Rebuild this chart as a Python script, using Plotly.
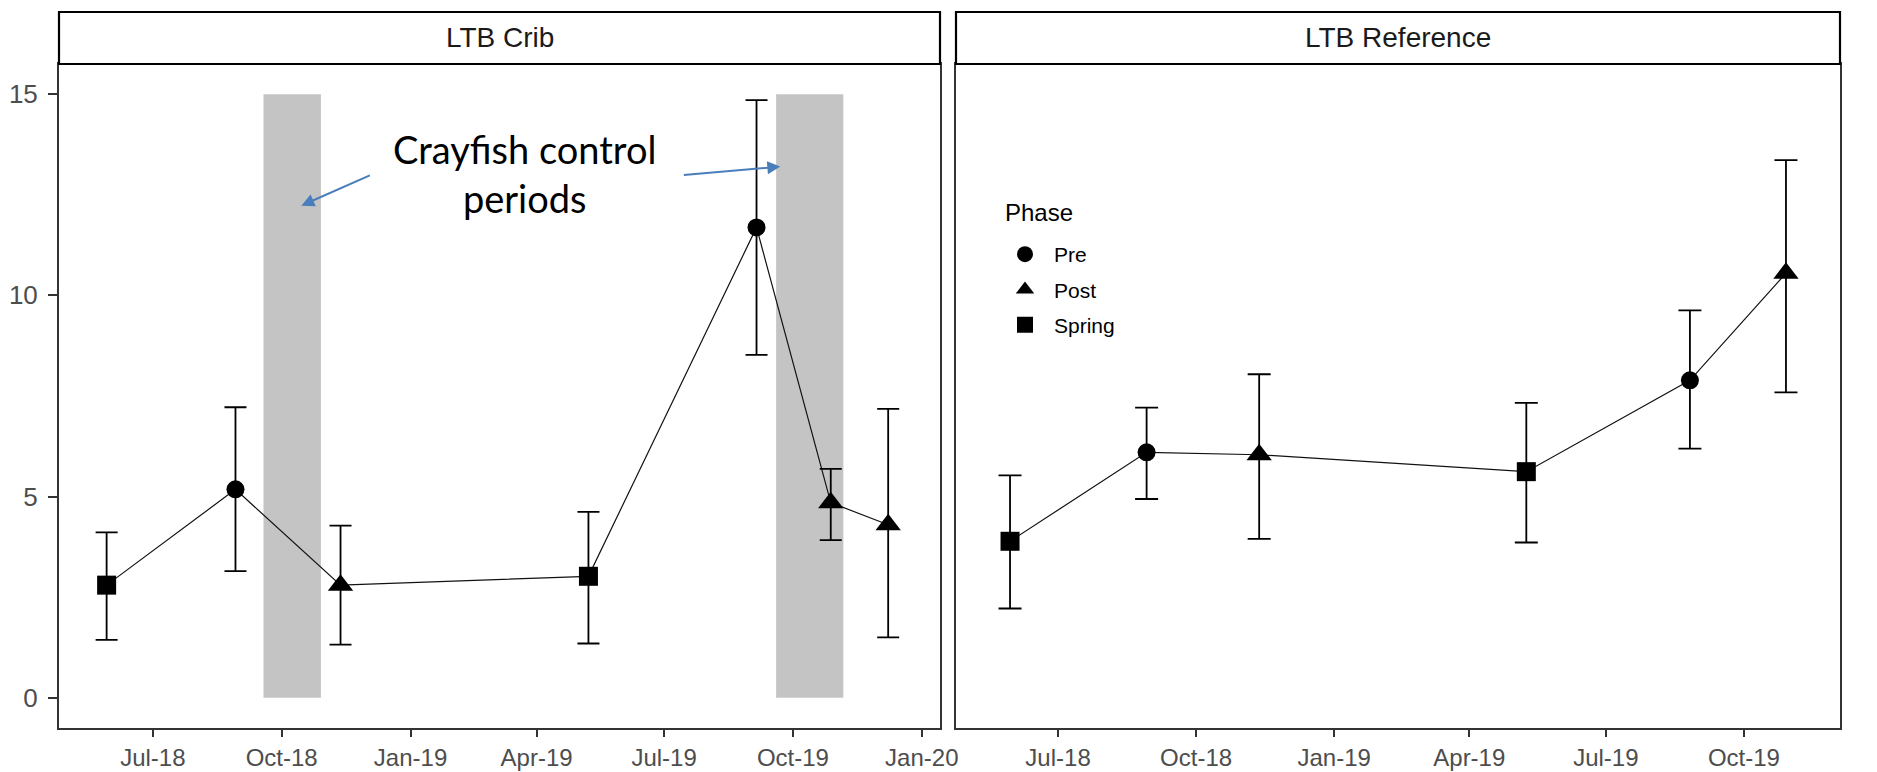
import plotly.graph_objects as go

# ---- data -------------------------------------------------------------
crib_dates = ["2018-05-29", "2018-08-29", "2018-11-12", "2019-05-08",
              "2019-09-05", "2019-10-28", "2019-12-08"]
crib_mean = [2.80, 5.18, 2.80, 3.02, 11.69, 4.85, 4.30]
crib_lower = [1.44, 3.15, 1.32, 1.35, 8.52, 3.92, 1.50]
crib_upper = [4.11, 7.22, 4.28, 4.62, 14.85, 5.69, 7.18]
crib_phase = ["Spring", "Pre", "Post", "Spring", "Pre", "Post", "Post"]

ref_dates = ["2018-05-30", "2018-08-29", "2018-11-12", "2019-05-09",
             "2019-08-26", "2019-10-29"]
ref_mean = [3.89, 6.10, 6.04, 5.62, 7.89, 10.55]
ref_lower = [2.22, 4.94, 3.95, 3.86, 6.19, 7.59]
ref_upper = [5.53, 7.21, 8.04, 7.33, 9.63, 13.36]
ref_phase = ["Spring", "Pre", "Post", "Spring", "Pre", "Post"]

# crayfish control periods (shaded in the crib panel)
control_start = ["2018-09-18", "2019-09-19"]
control_end = ["2018-10-29", "2019-11-06"]
control_bottom = 0
control_top = 15

phases = ["Pre", "Post", "Spring"]
phase_symbol = {"Pre": "circle", "Post": "triangle-up", "Spring": "square"}
phase_size = {"Pre": 18, "Post": 22, "Spring": 19}

y_ticks = [0, 5, 10, 15]

W, H = 1877, 772
FONT = "Liberation Sans, Arial, sans-serif"
TICK_COLOR = "#4D4D4D"


def px_x(v):
    return v / W


def px_y(v):
    return (H - v) / H


fig = go.Figure()


def add_panel(dates, mean, lower, upper, phase, xa, ya, cap, legend):
    # connecting line in date order
    fig.add_trace(go.Scatter(
        x=dates, y=mean, mode="lines", xaxis=xa, yaxis=ya,
        line=dict(color="#111111", width=1.2), showlegend=False,
        hoverinfo="skip"))
    for ph in phases:
        idx = [i for i, p in enumerate(phase) if p == ph]
        fig.add_trace(go.Scatter(
            x=[dates[i] for i in idx],
            y=[mean[i] for i in idx],
            mode="markers", name=ph, legendgroup=ph, showlegend=legend,
            xaxis=xa, yaxis=ya,
            marker=dict(symbol=phase_symbol[ph], size=phase_size[ph],
                        color="black"),
            error_y=dict(type="data", symmetric=False,
                         array=[upper[i] - mean[i] for i in idx],
                         arrayminus=[mean[i] - lower[i] for i in idx],
                         color="black", thickness=1.8, width=cap)))


add_panel(crib_dates, crib_mean, crib_lower, crib_upper, crib_phase,
          "x", "y", 11, True)
add_panel(ref_dates, ref_mean, ref_lower, ref_upper, ref_phase,
          "x2", "y2", 11.5, False)

# shaded control periods
for s, e in zip(control_start, control_end):
    fig.add_shape(type="rect", xref="x", yref="y", x0=s, x1=e,
                  y0=control_bottom, y1=control_top,
                  fillcolor="#C4C4C4", line=dict(width=0), layer="below")

# facet strips
left_dom = [px_x(59), px_x(940)]
right_dom = [px_x(956), px_x(1840)]
y_dom = [px_y(728), px_y(64)]
strip_y = [px_y(64), px_y(12)]
for dom, label in [(left_dom, "LTB Crib"), (right_dom, "LTB Reference")]:
    fig.add_shape(type="rect", xref="paper", yref="paper",
                  x0=dom[0], x1=dom[1], y0=strip_y[0], y1=strip_y[1],
                  fillcolor="white", line=dict(color="black", width=2.2))
    fig.add_annotation(xref="paper", yref="paper",
                       x=(dom[0] + dom[1]) / 2, y=(strip_y[0] + strip_y[1]) / 2,
                       text=label, showarrow=False, xanchor="center",
                       yanchor="middle",
                       font=dict(family=FONT, size=28, color="#1A1A1A"))

# call-out text and arrows
fig.add_annotation(xref="x", yref="y", x="2019-03-23", y=13.03,
                   text="Crayfish control<br>periods", showarrow=False,
                   xanchor="center", yanchor="middle",
                   font=dict(family="Lato, Open Sans, sans-serif", size=38,
                             color="black"))
ARROW = "#4A7EBB"
fig.add_annotation(xref="x", yref="y", x="2018-10-15", y=12.23,
                   ax=70, ay=-31, text="", showarrow=True, arrowhead=2,
                   arrowsize=1.3, arrowwidth=2, arrowcolor=ARROW)
fig.add_annotation(xref="x", yref="y", x="2019-09-22", y=13.2,
                   ax=-98, ay=8.5, text="", showarrow=True, arrowhead=2,
                   arrowsize=1.3, arrowwidth=2, arrowcolor=ARROW)

# legend title
fig.add_annotation(xref="paper", yref="paper", x=px_x(1003), y=px_y(213),
                   text="Phase", showarrow=False, xanchor="left",
                   yanchor="middle",
                   font=dict(family=FONT, size=24, color="black"))

axis_common = dict(showline=True, linecolor="#333333", linewidth=2,
                   mirror=True, showgrid=False, zeroline=False)
xaxis_common = dict(axis_common, type="date", tickformat="%b-%y",
                    dtick="M3", tick0="2018-07-01", ticks="outside",
                    ticklen=7, tickwidth=1.5, tickcolor="#333333",
                    tickfont=dict(family=FONT, size=24, color=TICK_COLOR),
                    ticklabelstandoff=0)

fig.update_layout(
    width=W, height=H,
    margin=dict(l=0, r=0, t=0, b=0, autoexpand=False),
    paper_bgcolor="white", plot_bgcolor="white",
    font=dict(family=FONT, color="black"),
    xaxis=dict(xaxis_common, domain=left_dom, anchor="y",
               range=["2018-04-25", "2020-01-14"]),
    xaxis2=dict(xaxis_common, domain=right_dom, anchor="y2",
                range=["2018-04-24", "2019-12-04"]),
    yaxis=dict(axis_common, domain=y_dom, anchor="x", range=[-0.75, 15.75],
               tickvals=y_ticks, ticks="outside", ticklen=9, tickwidth=1.5,
               tickcolor="#333333", ticklabelstandoff=5,
               tickfont=dict(family=FONT, size=26, color=TICK_COLOR)),
    yaxis2=dict(axis_common, domain=y_dom, anchor="x2", range=[-0.75, 15.75],
                showticklabels=False, ticks=""),
    showlegend=True,
    legend=dict(x=px_x(996), y=px_y(234), xanchor="left", yanchor="top",
                bgcolor="rgba(0,0,0,0)",
                font=dict(family=FONT, size=21, color="black"),
                tracegroupgap=5, itemsizing="trace", itemwidth=48),
)

fig.write_html("out.html")
